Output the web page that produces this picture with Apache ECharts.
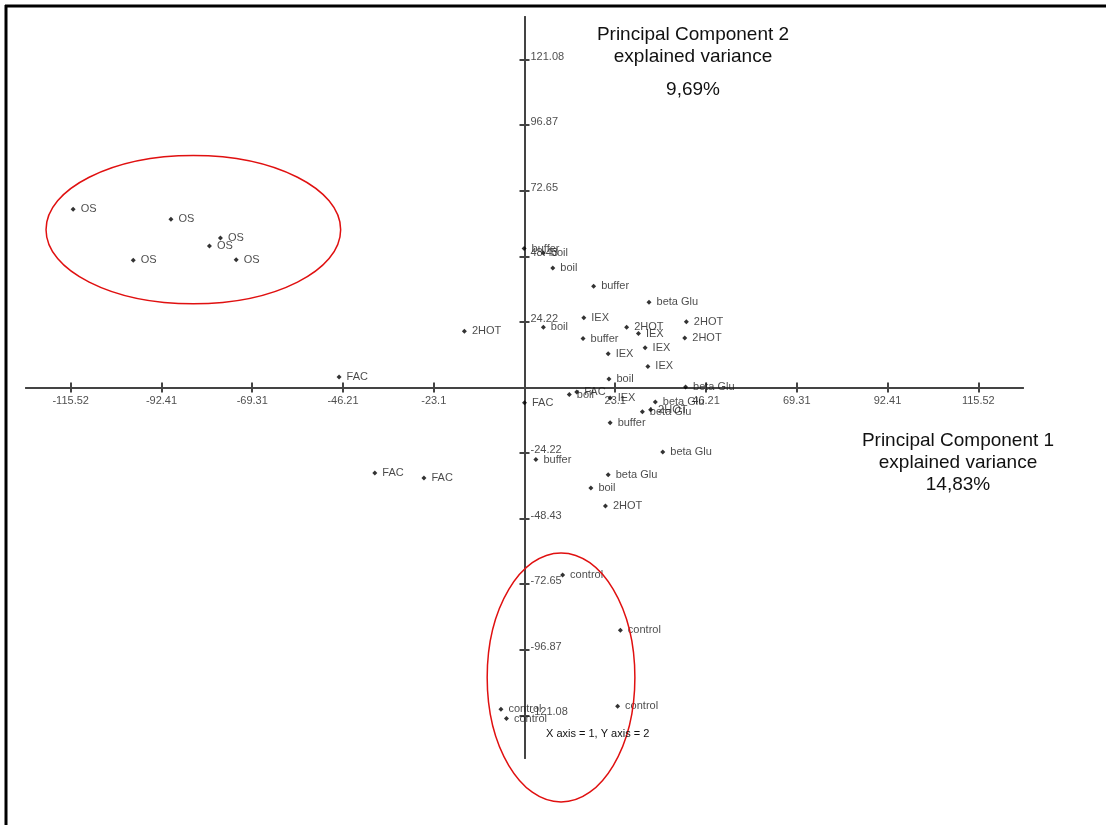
<!DOCTYPE html>
<html><head><meta charset="utf-8">
<script src="https://cdn.jsdelivr.net/npm/echarts@6/dist/echarts.min.js"></script>
<style>html,body{margin:0;padding:0;background:#fff}#c{width:1106px;height:825px}</style>
</head><body><div id="c"></div>
<script>
// Sample names
const names = [
  'OS','OS','OS','OS','OS','OS',
  'FAC','FAC','FAC','FAC','FAC',
  'control','control','control','control','control',
  'buffer','buffer','buffer','buffer','buffer',
  'boil','boil','boil','boil','boil','boil',
  'IEX','IEX','IEX','IEX','IEX','IEX',
  '2HOT','2HOT','2HOT','2HOT','2HOT','2HOT',
  'beta Glu','beta Glu','beta Glu','beta Glu','beta Glu','beta Glu'
];
// Principal component 1 scores
const pc1 = [
  -114.9,-90.0,-77.4,-80.2,-99.6,-73.4,
  -47.2,-38.1,-25.6,0.0,13.3,
  9.7,24.4,23.7,-6.0,-4.6,
  -0.1,17.6,14.9,21.8,2.9,
  4.8,7.2,4.8,21.5,11.4,16.9,
  15.1,29.0,30.7,21.3,31.4,21.8,
  -15.3,26.0,41.2,40.8,32.1,20.6,
  31.7,41.0,33.3,30.0,35.2,21.3
];
// Principal component 2 scores
const pc2 = [
  65.8,62.1,55.2,52.3,47.0,47.2,
  3.9,-31.6,-33.4,-5.6,-1.7,
  -69.3,-89.7,-117.7,-118.8,-122.3,
  51.3,37.4,18.1,-13.0,-26.6,
  49.7,44.1,22.3,3.1,-2.6,-37.1,
  25.8,19.9,14.7,12.5,7.8,-3.9,
  20.8,22.3,24.3,18.3,-8.2,-43.8,
  31.5,0.2,-5.4,-9.0,-23.8,-32.2
];
// Tick labels
const xTicks = [-115.52,-92.41,-69.31,-46.21,-23.1,23.1,46.21,69.31,92.41,115.52];
const yTicks = [-121.08,-96.87,-72.65,-48.43,-24.22,24.22,48.43,72.65,96.87,121.08];

const XR = 126.9, YR = 136.85;
const FONT = '"Liberation Sans", Arial, sans-serif';
const axisCol = '#444';

const points = names.map((n, i) => ({ name: n, value: [pc1[i], pc2[i]] }));

function xAxisCfg(idx, pos) {
  return {
    type: 'value', position: pos, min: -XR, max: XR,
    axisLine: { show: true, onZero: true, onZeroAxisIndex: idx, lineStyle: { color: axisCol, width: 2 } },
    axisTick: { show: true, inside: false, length: 5, customValues: xTicks, lineStyle: { color: axisCol, width: 2 } },
    axisLabel: { show: false },
    splitLine: { show: false }
  };
}
function yAxisCfg(idx, pos) {
  return {
    type: 'value', position: pos, min: -YR, max: YR,
    axisLine: { show: true, onZero: true, onZeroAxisIndex: idx, lineStyle: { color: axisCol, width: 2 } },
    axisTick: { show: true, inside: false, length: 5, customValues: yTicks, lineStyle: { color: axisCol, width: 2 } },
    axisLabel: { show: false },
    splitLine: { show: false }
  };
}

const tickLabelStyle = { fontSize: 11, fontFamily: FONT, color: '#222' };

const chart = echarts.init(document.getElementById('c'), null, { renderer: 'canvas' });
chart.setOption({
  animation: false,
  backgroundColor: '#fff',
  grid: { left: 26, right: 83, top: 17, bottom: 67, containLabel: false },
  xAxis: [xAxisCfg(0, 'bottom'), xAxisCfg(1, 'top')],
  yAxis: [yAxisCfg(0, 'left'), yAxisCfg(1, 'right')],
  series: [{
    type: 'scatter', name: 'xTickLabels', silent: true,
    symbolSize: 0, itemStyle: { color: 'transparent' },
    label: Object.assign({ show: true, position: 'bottom', distance: 8, formatter: p => String(p.value[0]) }, tickLabelStyle),
    data: xTicks.map(v => [v, 0])
  }, {
    type: 'scatter', name: 'yTickLabels', silent: true,
    symbolSize: 0, itemStyle: { color: 'transparent' },
    label: Object.assign({ show: true, position: 'right', distance: 6, offset: [0, -3], formatter: p => String(p.value[1]) }, tickLabelStyle),
    data: yTicks.map(v => [0, v])
  }, {
    type: 'scatter', name: 'samples',
    xAxisIndex: 0, yAxisIndex: 0,
    symbol: 'diamond', symbolSize: 5,
    itemStyle: { color: '#000' },
    label: { show: true, position: 'right', distance: 5, formatter: '{b}',
             fontSize: 11, fontFamily: FONT, color: '#1a1a1a' },
    data: points
  }]
});

// annotation ellipses (data units)
const ellipses = [
  { cx: -84.3, cy: 58.3, rx: 37.5, ry: 27.4 },
  { cx: 9.3, cy: -107.1, rx: 18.8, ry: 46.0 }
];
const graphics = [];
ellipses.forEach(e => {
  const c = chart.convertToPixel({ xAxisIndex: 0, yAxisIndex: 0 }, [e.cx, e.cy]);
  const p = chart.convertToPixel({ xAxisIndex: 0, yAxisIndex: 0 }, [e.cx + e.rx, e.cy + e.ry]);
  graphics.push({ type: 'ellipse', silent: true, z: 10,
    shape: { cx: c[0], cy: c[1], rx: Math.abs(p[0] - c[0]), ry: Math.abs(p[1] - c[1]) },
    style: { fill: 'none', stroke: '#e01010', lineWidth: 1.5 } });
});
function txt(s, x, y, size, align) {
  return { type: 'text', x: x, y: y, silent: true, z: 20,
    style: { text: s, fontSize: size, fontFamily: FONT, fill: '#111', align: align || 'center', verticalAlign: 'middle' } };
}
graphics.push(txt('Principal Component 2', 693, 35, 19));
graphics.push(txt('explained variance', 693, 57, 19));
graphics.push(txt('9,69%', 693, 90, 19));
graphics.push(txt('Principal Component 1', 958, 441, 19));
graphics.push(txt('explained variance', 958, 463, 19));
graphics.push(txt('14,83%', 958, 485, 19));
graphics.push(txt('X axis = 1, Y axis = 2', 546, 734, 11, 'left'));
// frame lines (top and left)
graphics.push({ type: 'line', silent: true, shape: { x1: 5, y1: 6, x2: 1106, y2: 6 }, style: { stroke: '#000', lineWidth: 3 } });
graphics.push({ type: 'line', silent: true, shape: { x1: 6, y1: 5, x2: 6, y2: 825 }, style: { stroke: '#000', lineWidth: 3 } });
chart.setOption({ graphic: graphics });
</script></body></html>
